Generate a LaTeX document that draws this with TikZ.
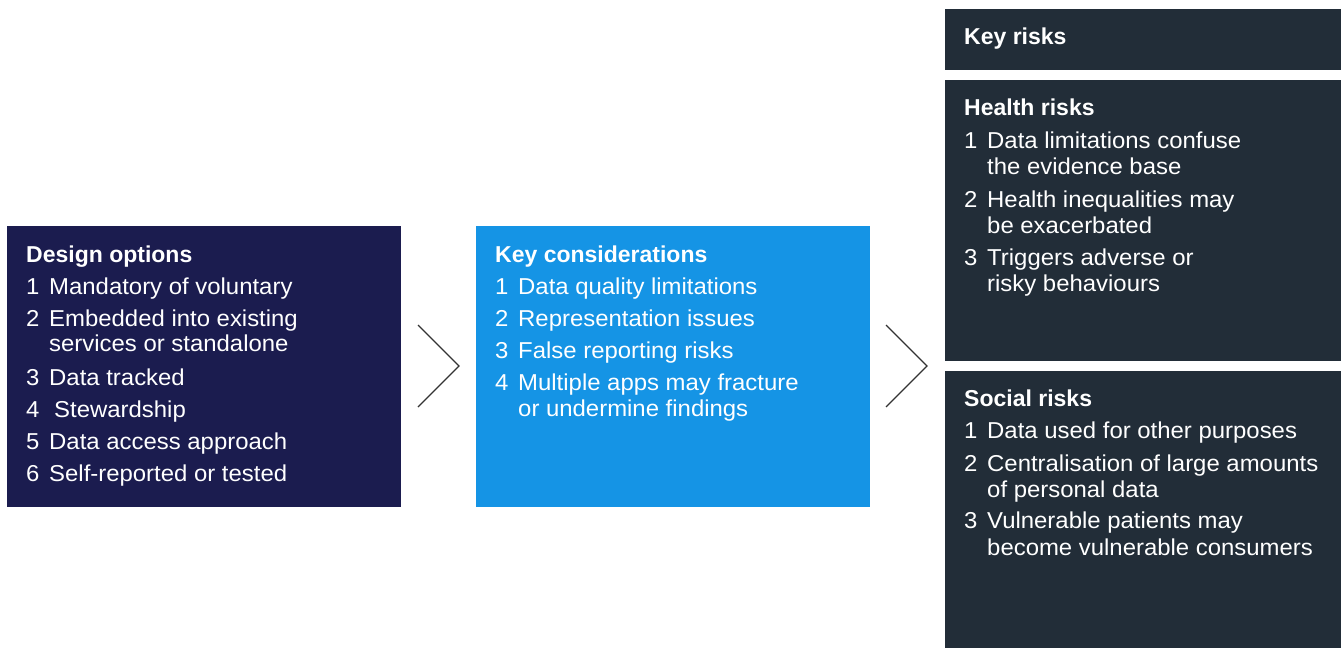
\documentclass[tikz,border=0pt]{standalone}
\usepackage{fontspec}
\setmainfont{Liberation Sans}
\newfontfamily\widesans{Liberation Sans}[FakeStretch=1.04]
\definecolor{navybox}{HTML}{1B1C4F}
\definecolor{bluebox}{HTML}{1594E5}
\definecolor{darkbox}{HTML}{222D38}
\definecolor{chevron}{HTML}{333333}
\begin{document}
\begin{tikzpicture}[x=1pt,y=-1pt,
  box/.style={anchor=north west, inner sep=0pt, outer sep=0pt, draw=none},
  txt/.style={anchor=base west, inner sep=0pt, text=white, font=\widesans\fontsize{23}{26}\selectfont},
  ttl/.style={anchor=base west, inner sep=0pt, text=white, font=\fontsize{23}{26}\selectfont\bfseries},
  chev/.style={draw=chevron, line width=1.3pt}]
\useasboundingbox (0,0) rectangle (1341,648);
% boxes
\node[box, fill=navybox, minimum width=394pt, minimum height=281pt] (design) at (7,226) {};
\node[box, fill=bluebox, minimum width=394pt, minimum height=281pt] (consid) at (476,226) {};
\node[box, fill=darkbox, minimum width=396pt, minimum height=61pt] (keyrisks) at (945,9) {};
\node[box, fill=darkbox, minimum width=396pt, minimum height=281pt] (health) at (945,80) {};
\node[box, fill=darkbox, minimum width=396pt, minimum height=277pt] (social) at (945,371) {};
% chevrons
\draw[chev] (418,325) -- (459,366) -- (418,407);
\draw[chev] (886,325) -- (927,366) -- (886,407);
% design options
\node[ttl] (dt) at (26,262) {Design options};
\node[txt] (dn1) at (26,294) {1}; \node[txt] (d1) at (49,294) {Mandatory of voluntary};
\node[txt] (dn2) at (26,326) {2}; \node[txt] (d2) at (49,326) {Embedded into existing};
\node[txt] (d2b) at (49,351) {services or standalone};
\node[txt] (dn3) at (26,385) {3}; \node[txt] (d3) at (49,385) {Data tracked};
\node[txt] (dn4) at (26,417) {4}; \node[txt] (d4) at (54,417) {Stewardship};
\node[txt] (dn5) at (26,449) {5}; \node[txt] (d5) at (49,449) {Data access approach};
\node[txt] (dn6) at (26,481) {6}; \node[txt] (d6) at (49,481) {Self-reported or tested};
% key considerations
\node[ttl] (ct) at (495,262) {Key considerations};
\node[txt] (cn1) at (495,294) {1}; \node[txt] (c1) at (518,294) {Data quality limitations};
\node[txt] (cn2) at (495,326) {2}; \node[txt] (c2) at (518,326) {Representation issues};
\node[txt] (cn3) at (495,358) {3}; \node[txt] (c3) at (518,358) {False reporting risks};
\node[txt] (cn4) at (495,390) {4}; \node[txt] (c4) at (518,390) {Multiple apps may fracture};
\node[txt] (c4b) at (518,416) {or undermine findings};
% key risks
\node[ttl] (kt) at (964,44) {Key risks};
% health risks
\node[ttl] (ht) at (964,115) {Health risks};
\node[txt] (hn1) at (964,148) {1}; \node[txt] (h1) at (987,148) {Data limitations confuse};
\node[txt] (h1b) at (987,174) {the evidence base};
\node[txt] (hn2) at (964,207) {2}; \node[txt] (h2) at (987,207) {Health inequalities may};
\node[txt] (h2b) at (987,233) {be exacerbated};
\node[txt] (hn3) at (964,265) {3}; \node[txt] (h3) at (987,265) {Triggers adverse or};
\node[txt] (h3b) at (987,291) {risky behaviours};
% social risks
\node[ttl] (st) at (964,406) {Social risks};
\node[txt] (sn1) at (964,438) {1}; \node[txt] (s1) at (987,438) {Data used for other purposes};
\node[txt] (sn2) at (964,471) {2}; \node[txt] (s2) at (987,471) {Centralisation of large amounts};
\node[txt] (s2b) at (987,497) {of personal data};
\node[txt] (sn3) at (964,528) {3}; \node[txt] (s3) at (987,528) {Vulnerable patients may};
\node[txt] (s3b) at (987,555) {become vulnerable consumers};
\end{tikzpicture}
\end{document}
